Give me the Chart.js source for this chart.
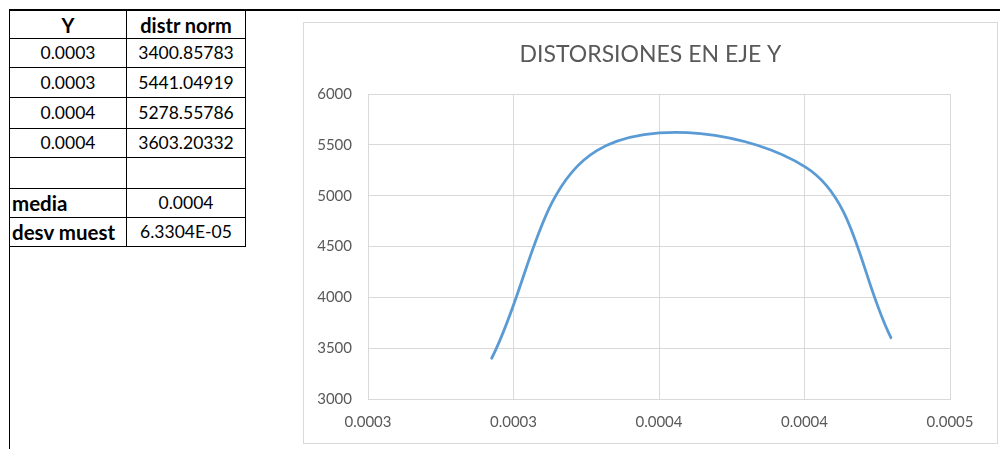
<!DOCTYPE html>
<html lang="es">
<head>
<meta charset="utf-8">
<title>Distorsiones en eje Y</title>
<script src="https://cdn.jsdelivr.net/npm/chart.js@4.4.1/dist/chart.umd.min.js"></script>
<style>
  html, body { margin: 0; padding: 0; background: #ffffff; }
  body { width: 1000px; height: 449px; position: relative; overflow: hidden; font-family: Lato, "Noto Sans", sans-serif; }
  #topRule { position: absolute; left: 9px; top: 9px; width: 991px; height: 2px; background: #000; }
  #leftRule { position: absolute; left: 9px; top: 9px; width: 1px; height: 440px; background: #000; }
  #sheet { position: absolute; left: 9px; top: 10px; border-collapse: collapse; font-size: 17.5px; color: #000; }
  #sheet td { border: 1px solid #000; padding: 0 2px; white-space: nowrap; line-height: 20px; }
  #sheet td.c1 { width: 112px; text-align: center; }
  #sheet td.c2 { width: 114px; text-align: center; }
  #sheet td.lbl { text-align: left; font-weight: bold; font-size: 20.5px; }
  #sheet tr.head td { font-weight: bold; font-size: 20px; }
  #frame { position: absolute; left: 303px; top: 22px; width: 693px; height: 420px; border: 1px solid #d9d9d9; background: #fff; }
  #frame canvas { display: block; }
</style>
</head>
<body>
<div id="topRule"></div>
<div id="leftRule"></div>
<table id="sheet">
  <tr class="head" style="height:28px"><td class="c1">Y</td><td class="c2">distr norm</td></tr>
  <tr style="height:29px"><td class="c1">0.0003</td><td class="c2">3400.85783</td></tr>
  <tr style="height:30px"><td class="c1">0.0003</td><td class="c2">5441.04919</td></tr>
  <tr style="height:31px"><td class="c1">0.0004</td><td class="c2">5278.55786</td></tr>
  <tr style="height:29px"><td class="c1">0.0004</td><td class="c2">3603.20332</td></tr>
  <tr style="height:31px"><td class="c1"></td><td class="c2"></td></tr>
  <tr style="height:29px"><td class="c1 lbl">media</td><td class="c2">0.0004</td></tr>
  <tr style="height:29px"><td class="c1 lbl">desv muest</td><td class="c2">6.3304E-05</td></tr>
</table>
<div id="frame"><canvas id="chart" width="693" height="420"></canvas></div>
<script>
// Valores Y (desplazamientos) y su densidad normal
const yDisplacement = [0.0002925, 0.0003285, 0.0004005, 0.0004297];
const normDensity = [3400.85783, 5441.04919, 5278.55786, 3603.20332];

// Etiquetas del eje X tal como las muestra la hoja (4 decimales)
const xTickLabels = ['0.0003', '0.0003', '0.0004', '0.0004', '0.0005'];
const xMin = 0.00025, xMax = 0.00045, xStep = 0.00005;
const yMin = 3000, yMax = 6000, yStep = 500;

const textColor = '#595959';
const gridColor = '#d9d9d9';

const points = yDisplacement.map((x, i) => ({ x: x, y: normDensity[i] }));

new Chart(document.getElementById('chart'), {
  type: 'scatter',
  data: {
    datasets: [{
      label: 'distr norm',
      data: points,
      showLine: true,
      tension: 0.36,
      borderColor: '#5b9bd5',
      borderWidth: 2.8,
      borderCapStyle: 'round',
      pointRadius: 0,
      pointHoverRadius: 0,
      fill: false
    }]
  },
  options: {
    responsive: false,
    animation: false,
    devicePixelRatio: 1,
    layout: { padding: 0 },
    plugins: {
      legend: { display: false },
      tooltip: { enabled: false },
      title: {
        display: true,
        text: 'DISTORSIONES EN EJE Y',
        color: textColor,
        font: { family: 'Lato', size: 23, weight: 'normal' },
        padding: { top: 18, bottom: 25.4 }
      }
    },
    scales: {
      x: {
        type: 'linear',
        min: xMin,
        max: xMax,
        afterFit: (s) => { s.height = 44; },
        grid: { color: gridColor, lineWidth: 1, drawTicks: false },
        border: { color: gridColor, width: 1 },
        ticks: {
          stepSize: xStep,
          autoSkip: false,
          maxRotation: 0,
          padding: 14,
          color: textColor,
          font: { family: 'Lato', size: 15 },
          callback: (v, i) => xTickLabels[i] !== undefined ? xTickLabels[i] : ''
        }
      },
      y: {
        min: yMin,
        max: yMax,
        afterFit: (s) => { s.width = 64; },
        grid: { color: gridColor, lineWidth: 1, drawTicks: false },
        border: { color: gridColor, width: 1 },
        ticks: {
          stepSize: yStep,
          padding: 16,
          color: textColor,
          font: { family: 'Lato', size: 15 },
          callback: (v) => String(v)
        }
      },
      // margen derecho vacío del área de trazado
      yRight: {
        position: 'right',
        min: yMin,
        max: yMax,
        afterFit: (s) => { s.width = 47; },
        grid: { display: false, drawOnChartArea: false },
        border: { display: false },
        ticks: { display: false }
      }
    }
  }
});
</script>
</body>
</html>
